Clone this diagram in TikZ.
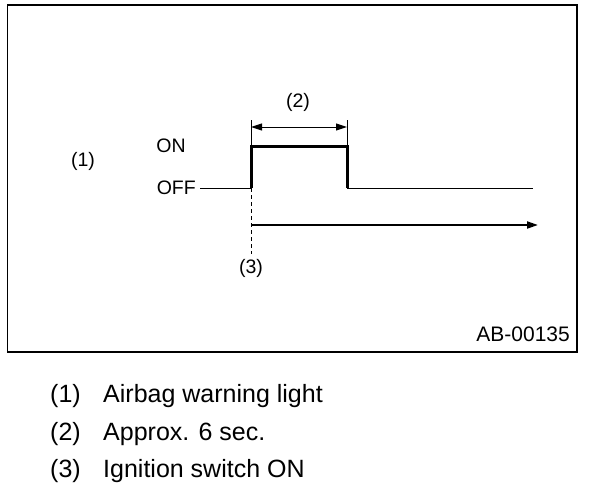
\documentclass[tikz,border=0pt]{standalone}
\usepackage{fontspec}
\setmainfont{Liberation Sans}
\usetikzlibrary{arrows.meta}
\newcommand{\drawthick}{\draw[line width=3pt]}
\newcommand{\drawthin}{\draw[line width=1pt]}
\tikzset{
  lbl/.style={inner sep=0pt, font=\fontsize{19.5}{22}\selectfont},
  legend/.style={inner sep=0pt, anchor=base west, font=\fontsize{25}{29}\selectfont},
  tipend/.style={-{Triangle[length=11pt,width=7pt]}},
  tipboth/.style={{Triangle[length=11pt,width=7pt]}-{Triangle[length=11pt,width=7pt]}},
}
\begin{document}
\begin{tikzpicture}[x=1pt,y=-1pt]
\useasboundingbox (0,0) rectangle (608,488);
\draw[line width=1.5pt] (7.5,5) rectangle (577,352);
% waveform
\coordinate (offstart) at (200,188);
\coordinate (rise) at (251,188);
\coordinate (risetop) at (251,146);
\coordinate (falltop) at (347,146);
\coordinate (fall) at (347,188);
\coordinate (offend) at (533,188);
\drawthin (offstart)--(rise);
\drawthick (rise)--(risetop)--(falltop)--(fall);
\drawthin (fall)--(offend);
% dimension
\coordinate (dimleft) at (251,120);
\coordinate (dimright) at (347,120);
\drawthin (dimleft)--(risetop);
\drawthin (dimright)--(falltop);
\drawthin[tipboth] (251,127)--(347,127);
% time axis
\coordinate (switchon) at (251,254);
\coordinate (axisstart) at (251,225);
\coordinate (axisend) at (538,225);
\draw[line width=1pt, dash pattern=on 4pt off 3pt] (rise)--(switchon);
\draw[line width=2pt, tipend] (axisstart)--(axisend);
% labels
\node[lbl] (light) at (83,161) {(1)};
\node[lbl] (on) at (171,146) {ON};
\node[lbl, anchor=east] (off) at (196,188) {OFF};
\node[lbl] (approx) at (298,102) {(2)};
\node[lbl] (ign) at (251,268) {(3)};
\node[lbl, anchor=east, font=\fontsize{21}{23}\selectfont] (code) at (570,334) {AB-00135};
% legend
\foreach \n/\t/\y in {1/Airbag warning light/402, 2/Approx. 6 sec./440, 3/Ignition switch ON/477}{
  \node[legend] (num\n) at (50,\y) {(\n)};
  \node[legend] (txt\n) at (103,\y) {\t};
}
\end{tikzpicture}
\end{document}
